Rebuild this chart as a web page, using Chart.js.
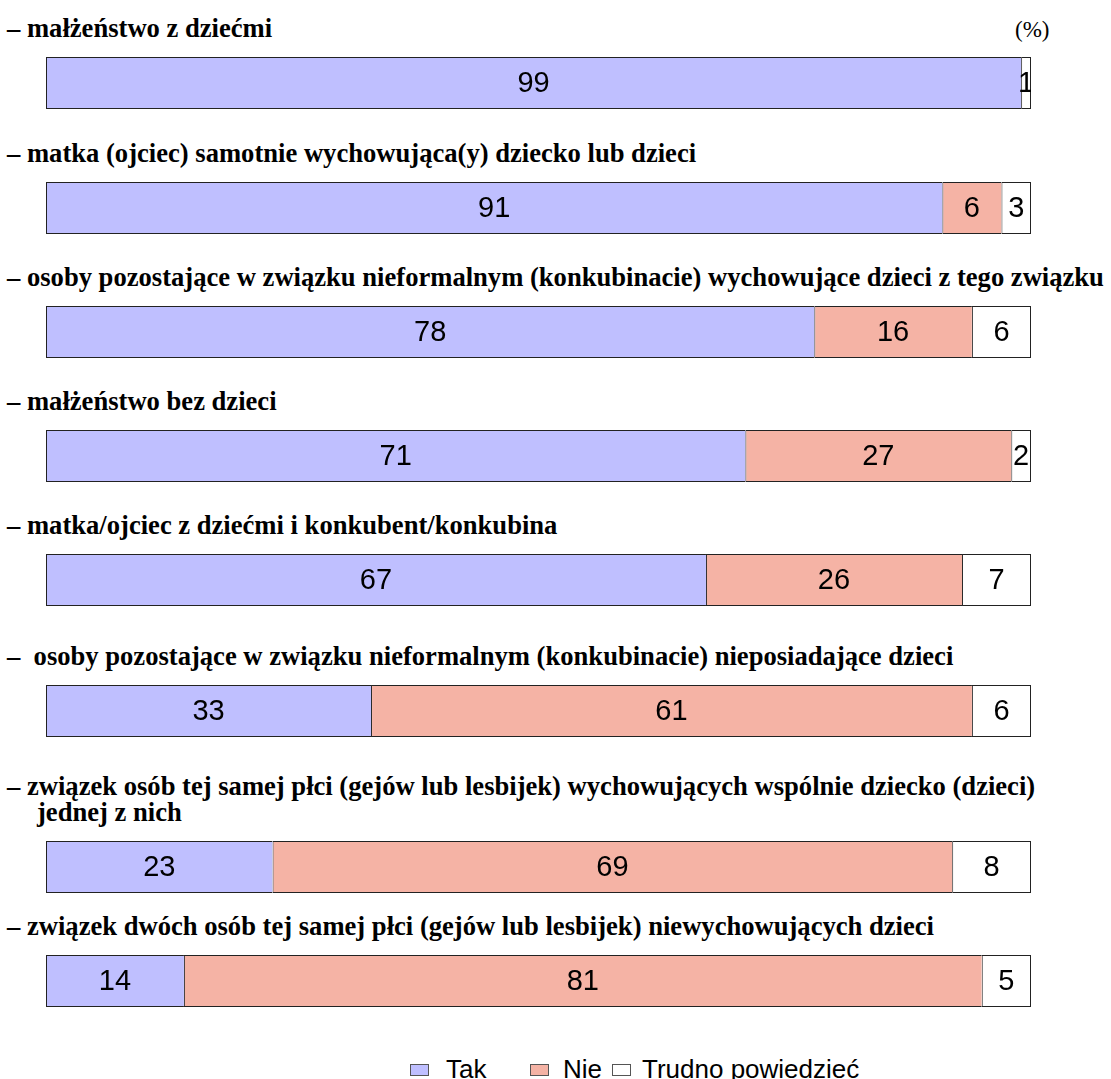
<!DOCTYPE html>
<html>
<head>
<meta charset="utf-8">
<script src="https://cdn.jsdelivr.net/npm/chart.js@4.4.1/dist/chart.umd.min.js"></script>
<style>
  html, body { margin: 0; padding: 0; background: #fff; }
  #page { position: relative; width: 1111px; height: 1079px; overflow: hidden; }
  .title { position: absolute; left: 7px; font: bold 26.6px "Liberation Serif", "Times New Roman", serif; line-height: 26px; color: #000; white-space: pre; }
  .title .indent { padding-left: 30px; }
  .row { position: absolute; left: 46px; width: 985px; height: 52px; }
  #unit { position: absolute; left: 1015px; top: 18px; font: 23px "Liberation Serif", serif; line-height: 23px; }
  #legend { position: absolute; top: 1054px; left: 0; font: 26px "Liberation Sans", Arial, sans-serif; }
  .item { position: absolute; top: 0; white-space: nowrap; }
  .box { position: absolute; top: 10px; width: 17px; height: 10px; border: 1px solid #555; }
</style>
</head>
<body>
<div id="page">
  <div id="unit">(%)</div>
  <div id="legend"></div>
</div>
<script>
// data
const categories = [
  'małżeństwo z dziećmi',
  'matka (ojciec) samotnie wychowująca(y) dziecko lub dzieci',
  'osoby pozostające w związku nieformalnym (konkubinacie) wychowujące dzieci z tego związku',
  'małżeństwo bez dzieci',
  'matka/ojciec z dziećmi i konkubent/konkubina',
  ' osoby pozostające w związku nieformalnym (konkubinacie) nieposiadające dzieci',
  'związek osób tej samej płci (gejów lub lesbijek) wychowujących wspólnie dziecko (dzieci)\njednej z nich',
  'związek dwóch osób tej samej płci (gejów lub lesbijek) niewychowujących dzieci'
];
const takValues    = [99, 91, 78, 71, 67, 33, 23, 14];
const nieValues    = [0, 6, 16, 27, 26, 61, 69, 81];
const trudnoValues = [1, 3, 6, 2, 7, 6, 8, 5];
const seriesNames  = ['Tak', 'Nie', 'Trudno powiedzieć'];

// layout / style
const seriesColors = ['#bfbfff', '#f5b3a5', '#ffffff'];
const rowTops = [57, 182, 306, 430, 554, 685, 841, 955];
const legendBoxX = [410, 530, 612];
const legendTextX = [446, 563, 642];

const page = document.getElementById('page');

// value labels in the middle of each segment
const segmentLabels = {
  id: 'segmentLabels',
  afterDatasetsDraw(chart) {
    const ctx = chart.ctx;
    ctx.save();
    ctx.font = '29px "Liberation Sans", Arial, sans-serif';
    ctx.fillStyle = '#000';
    ctx.textAlign = 'center';
    ctx.textBaseline = 'middle';
    chart.data.datasets.forEach((ds, i) => {
      chart.getDatasetMeta(i).data.forEach((bar, j) => {
        const v = ds.data[j];
        if (!v) return;
        const p = bar.getProps(['x', 'base', 'y'], true);
        ctx.fillText(String(v), (p.x + p.base) / 2, p.y + 1);
      });
    });
    ctx.restore();
  }
};

categories.forEach((cat, r) => {
  // title above the bar
  const t = document.createElement('div');
  t.className = 'title';
  const lines = cat.split('\n');
  t.innerHTML = '– ' + lines[0] + (lines[1] ? '<br><span class="indent">' + lines[1] + '</span>' : '');
  t.style.bottom = (1079 - (rowTops[r] - 16)) + 'px';
  page.appendChild(t);

  // the bar itself
  const wrap = document.createElement('div');
  wrap.className = 'row';
  wrap.style.top = rowTops[r] + 'px';
  const canvas = document.createElement('canvas');
  wrap.appendChild(canvas);
  page.appendChild(wrap);

  const values = [takValues[r], nieValues[r], trudnoValues[r]];
  new Chart(canvas, {
    type: 'bar',
    data: {
      labels: [cat],
      datasets: seriesNames.map((name, i) => ({
        label: name,
        data: [values[i]],
        backgroundColor: seriesColors[i],
        borderColor: '#222',
        borderWidth: { top: 1, bottom: 1, left: 1, right: i === 2 ? 1 : 0 },
        borderSkipped: false,
        barPercentage: 1,
        categoryPercentage: 1,
        inflateAmount: 0
      }))
    },
    options: {
      indexAxis: 'y',
      responsive: true,
      maintainAspectRatio: false,
      animation: false,
      layout: { padding: 0 },
      plugins: { legend: { display: false }, tooltip: { enabled: false } },
      scales: {
        x: { stacked: true, min: 0, max: 100, display: false },
        y: { stacked: true, display: false }
      }
    },
    plugins: [segmentLabels]
  });
});

// legend
const legend = document.getElementById('legend');
seriesNames.forEach((name, i) => {
  const box = document.createElement('span');
  box.className = 'box';
  box.style.left = legendBoxX[i] + 'px';
  box.style.background = seriesColors[i];
  legend.appendChild(box);
  const label = document.createElement('span');
  label.className = 'item';
  label.style.left = legendTextX[i] + 'px';
  label.textContent = name;
  legend.appendChild(label);
});
</script>
</body>
</html>
